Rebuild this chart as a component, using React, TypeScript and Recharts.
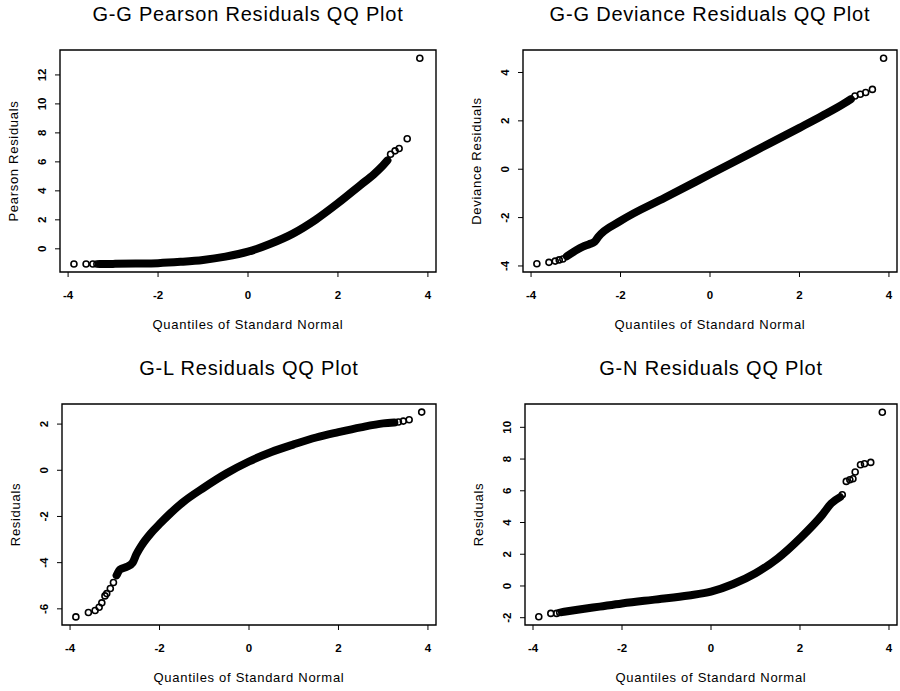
import React from "react"
import { ComposedChart, Line, Scatter, XAxis, YAxis, ReferenceArea } from "recharts"

const FONT = "'Liberation Sans', Arial, sans-serif"

const xTicks = [-4, -2, 0, 2, 4]
const xDomain: [number, number] = [-4.18, 4.18]

// G-G Pearson residuals
const pearsonBandQ = [-3.3, -3.0, -2.5, -2.0, -1.5, -1.0, -0.5, 0, 0.5, 1.0, 1.5, 2.0, 2.5, 2.8, 3.0, 3.1]
const pearsonBandV = [-1.05, -1.04, -1.02, -0.99, -0.9, -0.77, -0.54, -0.2, 0.35, 1.05, 2.0, 3.15, 4.4, 5.15, 5.75, 6.1]
const pearsonTailQ = [-3.87, -3.6, -3.45, -3.36, 3.17, 3.27, 3.36, 3.54, 3.82]
const pearsonTailV = [-1.05, -1.05, -1.05, -1.05, 6.53, 6.76, 6.92, 7.6, 13.15]
const pearsonTicks = [0, 2, 4, 6, 8, 10, 12]

// G-G deviance residuals
const devianceBandQ = [-3.2, -2.84, -2.7, -2.58, -2.5, -2.0, -1.0, 0, 1.0, 2.0, 2.5, 3.0, 3.15]
const devianceBandV = [-3.6, -3.2, -3.1, -3.0, -2.8, -2.14, -1.17, -0.21, 0.75, 1.71, 2.2, 2.72, 2.9]
const devianceTailQ = [-3.87, -3.6, -3.46, -3.37, -3.29, 3.24, 3.36, 3.48, 3.63, 3.88]
const devianceTailV = [-3.91, -3.85, -3.8, -3.75, -3.71, 3.03, 3.1, 3.17, 3.3, 4.59]
const devianceTicks = [-4, -2, 0, 2, 4]

// G-L residuals
const glBandQ = [-2.96, -2.88, -2.73, -2.6, -2.52, -2.4, -2.2, -2.0, -1.75, -1.5, -1.0, -0.5, 0, 0.5, 1.0, 1.5, 2.0, 2.5, 3.0, 3.25]
const glBandV = [-4.55, -4.29, -4.18, -4.0, -3.65, -3.25, -2.74, -2.33, -1.85, -1.42, -0.74, -0.13, 0.38, 0.79, 1.12, 1.42, 1.65, 1.86, 2.03, 2.07]
const glTailQ = [-3.87, -3.59, -3.44, -3.35, -3.29, -3.22, -3.18, -3.1, -3.03, 3.34, 3.45, 3.58, 3.86]
const glTailV = [-6.35, -6.16, -6.07, -5.93, -5.74, -5.44, -5.34, -5.12, -4.86, 2.09, 2.13, 2.19, 2.52]
const glTicks = [-6, -4, -2, 0, 2]

// G-N residuals
const gnBandQ = [-3.35, -3.0, -2.5, -2.0, -1.5, -1.0, -0.5, 0, 0.5, 1.0, 1.5, 2.0, 2.5, 2.7, 2.9]
const gnBandV = [-1.65, -1.5, -1.3, -1.1, -0.93, -0.78, -0.6, -0.36, 0.12, 0.8, 1.74, 3.0, 4.48, 5.2, 5.6]
const gnTailQ = [-3.87, -3.6, -3.47, -3.4, 2.95, 3.04, 3.12, 3.19, 3.24, 3.36, 3.45, 3.59, 3.85]
const gnTailV = [-1.94, -1.73, -1.73, -1.67, 5.75, 6.59, 6.7, 6.76, 7.18, 7.64, 7.7, 7.79, 10.95]
const gnTicks = [-2, 0, 2, 4, 6, 8, 10]

const zip = (q: number[], v: number[]) => q.map((x, i) => ({ q: x, v: v[i] }))

// eslint-disable-next-line @typescript-eslint/no-explicit-any
function XTick({ x, y, payload }: any) {
  return (
    <text x={x} y={y} dy="0.35em" textAnchor="middle" fontFamily={FONT} fontSize={11.5} fontWeight="bold" fill="#000">
      {payload.value}
    </text>
  )
}

// eslint-disable-next-line @typescript-eslint/no-explicit-any
function YTick({ x, y, payload }: any) {
  return (
    <text
      x={x}
      y={y}
      dy="0.35em"
      textAnchor="middle"
      transform={`rotate(-90 ${x} ${y})`}
      fontFamily={FONT}
      fontSize={11.5}
      fontWeight="bold"
      fill="#000"
    >
      {payload.value}
    </text>
  )
}

// eslint-disable-next-line @typescript-eslint/no-explicit-any
function OpenDot(props: any) {
  if (props.cx == null || props.cy == null) return null
  return <circle cx={props.cx} cy={props.cy} r={3} fill="none" stroke="#000" strokeWidth={1.6} />
}

type PanelProps = {
  left: number
  top: number
  height: number
  plotLeft: number
  plotRight: number
  plotBottom: number
  title: string
  yLabel: string
  yDomain: [number, number]
  yTicks: number[]
  band: { q: number; v: number }[]
  tail: { q: number; v: number }[]
}

function Panel({ left, top, height, plotLeft, plotRight, plotBottom, title, yLabel, yDomain, yTicks, band, tail }: PanelProps) {
  const plotTop = 50
  return (
    <div style={{ position: "absolute", left, top, width: 450, height }}>
      <div
        style={{
          position: "absolute",
          left: plotLeft - 20,
          width: plotRight - plotLeft + 40,
          top: 4,
          textAlign: "center",
          fontFamily: FONT,
          fontSize: 20,
          lineHeight: "20px",
          letterSpacing: 0.8,
          color: "#000",
          whiteSpace: "nowrap",
        }}
      >
        {title}
      </div>
      <ComposedChart
        width={450}
        height={height}
        margin={{ top: plotTop, right: 450 - plotRight, bottom: height - plotBottom - 60, left: 0 }}
      >
        <XAxis
          type="number"
          dataKey="q"
          domain={xDomain}
          ticks={xTicks}
          allowDataOverflow
          height={60}
          axisLine={false}
          tickLine={{ stroke: "#000", strokeWidth: 1 }}
          tickSize={5}
          tickMargin={18}
          tick={<XTick />}
          label={{
            // eslint-disable-next-line @typescript-eslint/no-explicit-any
            content: (p: any) => {
              const vb = p.viewBox || { x: plotLeft, y: plotBottom, width: plotRight - plotLeft }
              return (
                <text
                  x={vb.x + vb.width / 2}
                  y={vb.y + 52}
                  dy="0.35em"
                  textAnchor="middle"
                  fontFamily={FONT}
                  fontSize={13}
                  letterSpacing={0.7}
                  fill="#000"
                >
                  Quantiles of Standard Normal
                </text>
              )
            },
          }}
        />
        <YAxis
          type="number"
          dataKey="v"
          domain={yDomain}
          ticks={yTicks}
          allowDataOverflow
          width={plotLeft}
          axisLine={false}
          tickLine={{ stroke: "#000", strokeWidth: 1 }}
          tickSize={5}
          tickMargin={13}
          tick={<YTick />}
          label={{
            // eslint-disable-next-line @typescript-eslint/no-explicit-any
            content: (p: any) => {
              const vb = p.viewBox || { x: 0, y: plotTop, width: plotLeft, height: plotBottom - plotTop }
              const cx = vb.x + vb.width - 47
              const cy = vb.y + vb.height / 2
              return (
                <text
                  x={cx}
                  y={cy}
                  dy="0.35em"
                  textAnchor="middle"
                  transform={`rotate(-90 ${cx} ${cy})`}
                  fontFamily={FONT}
                  fontSize={13}
                  letterSpacing={0.7}
                  fill="#000"
                >
                  {yLabel}
                </text>
              )
            },
          }}
        />
        <ReferenceArea
          x1={xDomain[0]}
          x2={xDomain[1]}
          y1={yDomain[0]}
          y2={yDomain[1]}
          fill="none"
          stroke="#000"
          strokeWidth={1.4}
        />
        <Line
          data={band}
          dataKey="v"
          type="monotone"
          stroke="#000"
          strokeWidth={8}
          strokeLinecap="round"
          strokeLinejoin="round"
          dot={false}
          activeDot={false}
          isAnimationActive={false}
        />
        <Scatter data={tail} dataKey="v" shape={<OpenDot />} isAnimationActive={false} />
      </ComposedChart>
    </div>
  )
}

export default function App() {
  return (
    <div style={{ position: "absolute", left: 0, top: 0, width: 900, height: 691, background: "#fff" }}>
      <Panel
        left={0}
        top={0}
        height={345}
        plotLeft={60}
        plotRight={436}
        plotBottom={272}
        title="G-G Pearson Residuals QQ Plot"
        yLabel="Pearson Residuals"
        yDomain={[-1.6, 13.72]}
        yTicks={pearsonTicks}
        band={zip(pearsonBandQ, pearsonBandV)}
        tail={zip(pearsonTailQ, pearsonTailV)}
      />
      <Panel
        left={450}
        top={0}
        height={345}
        plotLeft={73}
        plotRight={447}
        plotBottom={272}
        title="G-G Deviance Residuals QQ Plot"
        yLabel="Deviance Residuals"
        yDomain={[-4.25, 4.93]}
        yTicks={devianceTicks}
        band={zip(devianceBandQ, devianceBandV)}
        tail={zip(devianceTailQ, devianceTailV)}
      />
      <Panel
        left={0}
        top={354}
        height={337}
        plotLeft={62}
        plotRight={436}
        plotBottom={271}
        title="G-L Residuals QQ Plot"
        yLabel="Residuals"
        yDomain={[-6.7, 2.87]}
        yTicks={glTicks}
        band={zip(glBandQ, glBandV)}
        tail={zip(glTailQ, glTailV)}
      />
      <Panel
        left={450}
        top={354}
        height={337}
        plotLeft={75}
        plotRight={447}
        plotBottom={271}
        title="G-N Residuals QQ Plot"
        yLabel="Residuals"
        yDomain={[-2.46, 11.47]}
        yTicks={gnTicks}
        band={zip(gnBandQ, gnBandV)}
        tail={zip(gnTailQ, gnTailV)}
      />
    </div>
  )
}
